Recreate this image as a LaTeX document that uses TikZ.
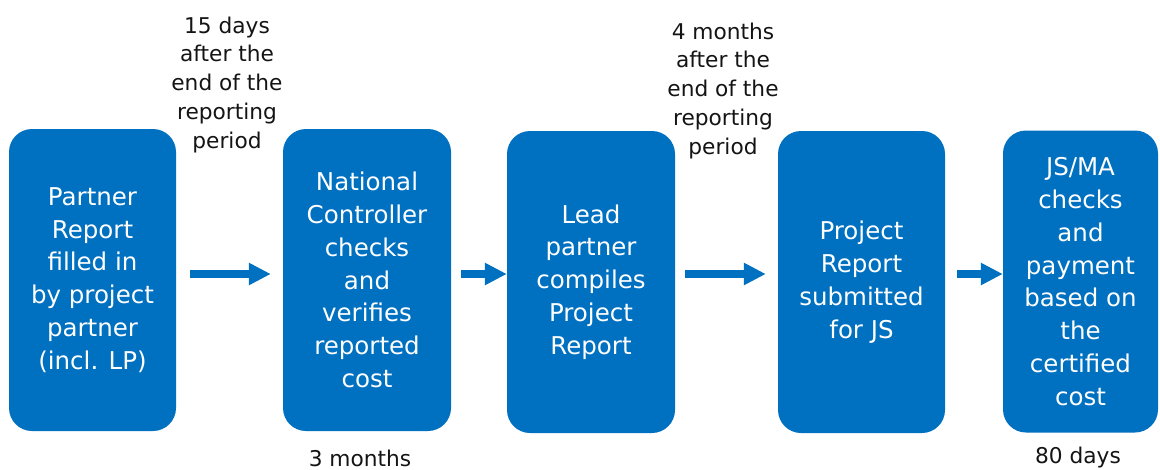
\documentclass[tikz,border=0pt]{standalone}
\usepackage{fontspec}
\setmainfont{DejaVu Sans}
\usetikzlibrary{arrows.meta}
\definecolor{boxblue}{RGB}{0,112,192}
\definecolor{txtblack}{RGB}{20,20,20}
\begin{document}
\begin{tikzpicture}[x=1pt,y=-1pt,
  stepbox/.style={fill=boxblue, draw=none, rounded corners=23pt, text=white,
    align=center, inner sep=0pt, minimum height=302pt,
    font=\fontsize{24.5}{32.8}\selectfont},
  lbl/.style={align=center, inner sep=0pt, text=txtblack, anchor=north,
    font=\fontsize{21.7}{28.8}\selectfont},
  arr/.style={draw=boxblue, line width=8pt,
    -{Triangle[length=22pt,width=21pt]}}
]
\useasboundingbox (0,0) rectangle (1160,469);
\node[stepbox, minimum width=167pt] (b1) at (92.5,280)
  {Partner\\Report\\filled in\\by project\\partner\\(incl. LP)};
\node[stepbox, minimum width=168pt] (b2) at (367,280)
  {National\\Controller\\checks\\and\\verifies\\reported\\cost};
\node[stepbox, minimum width=168pt] (b3) at (591,282)
  {Lead\\partner\\compiles\\Project\\Report};
\node[stepbox, minimum width=167pt] (b4) at (861.5,282)
  {Project\\Report\\submitted\\for JS};
\node[stepbox, minimum width=155pt] (b5) at (1080.5,281.5)
  {JS/MA\\checks\\and\\payment\\based on\\the\\certified\\cost};
\coordinate (ay) at (0,274);
\draw[arr, shorten <=14pt, shorten >=12pt] (b1.east |- ay) -- (b2.west |- ay);
\draw[arr, shorten <=10pt, shorten >=0pt] (b2.east |- ay) -- (b3.west |- ay);
\draw[arr, shorten <=10pt, shorten >=12pt] (b3.east |- ay) -- (b4.west |- ay);
\draw[arr, shorten <=12pt, shorten >=0pt] (b4.east |- ay) -- (b5.west |- ay);
\node[lbl] (l1) at (227,16.5) {15 days\\after the\\end of the\\reporting\\period};
\node[lbl] (l2) at (723,22.5) {4 months\\after the\\end of the\\reporting\\period};
\node[lbl] (l3) at (360,450) {3 months};
\node[lbl] (l4) at (1078,446.5) {80 days};
\end{tikzpicture}
\end{document}
